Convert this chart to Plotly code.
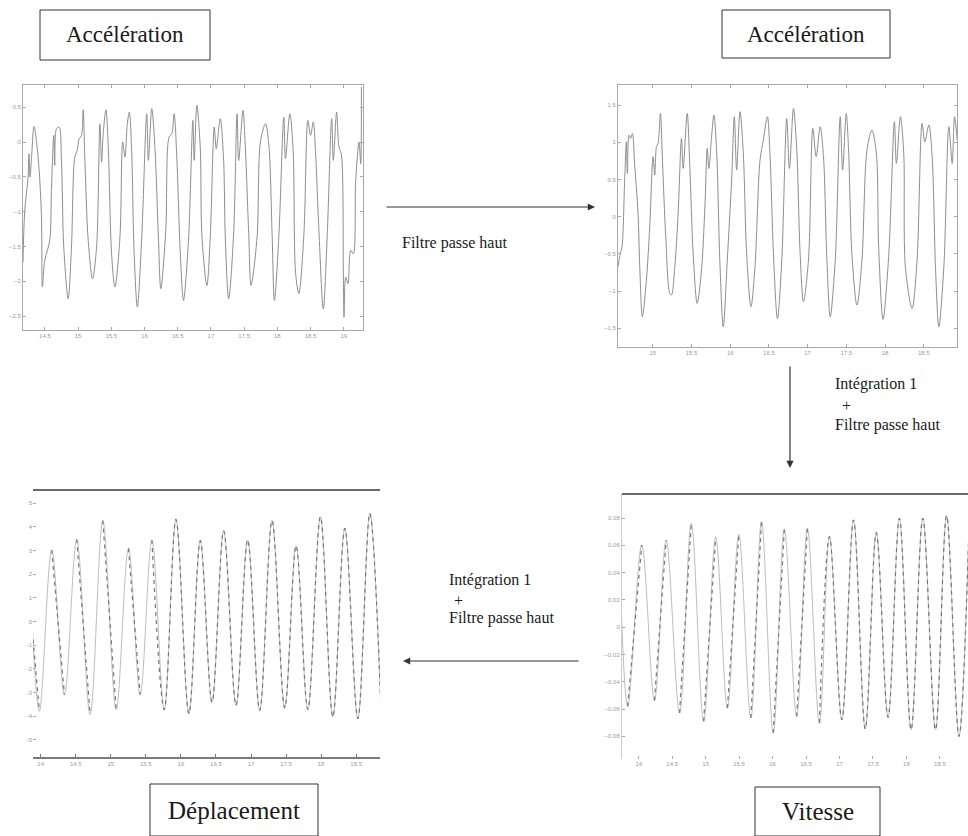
import plotly.graph_objects as go

# ---------------- data ----------------
# Raw acceleration (top left panel)
acc_raw_t = [14.170, 14.195, 14.246, 14.261, 14.276, 14.296, 14.336, 14.397, 14.447, 14.462,
             14.497, 14.573, 14.598, 14.633, 14.648, 14.674, 14.714, 14.749, 14.784, 14.850,
             14.900, 14.950, 14.986, 15.016, 15.051, 15.076, 15.102, 15.152, 15.217, 15.278,
             15.328, 15.353, 15.378, 15.419, 15.454, 15.504, 15.555, 15.630, 15.671, 15.706,
             15.741, 15.771, 15.806, 15.842, 15.892, 15.958, 16.033, 16.058, 16.109, 16.159,
             16.209, 16.245, 16.320, 16.370, 16.411, 16.446, 16.486, 16.537, 16.587, 16.662,
             16.728, 16.748, 16.788, 16.839, 16.864, 16.939, 16.990, 17.050, 17.080, 17.141,
             17.191, 17.216, 17.267, 17.342, 17.393, 17.418, 17.483, 17.518, 17.569, 17.604,
             17.695, 17.745, 17.821, 17.871, 17.921, 17.956, 18.022, 18.097, 18.123, 18.188,
             18.238, 18.274, 18.324, 18.400, 18.460, 18.500, 18.541, 18.576, 18.626, 18.692,
             18.752, 18.818, 18.843, 18.893, 18.928, 18.963, 18.994, 19.004, 19.029, 19.064,
             19.104, 19.145, 19.180, 19.230, 19.256, 19.266]
acc_raw_v = [-1.724, -1.006, -0.503, -0.168, -0.503, -0.263, 0.225, -0.216, -1.030, -2.083,
             -1.700, -1.413, -0.694, 0.096, -0.335, 0.192, 0.216, -0.263, -1.509, -2.251,
             -1.509, -0.216, -0.120, 0.048, 0.096, 0.465, -0.263, -1.413, -1.964, -1.509,
             0.263, -0.287, 0.120, 0.465, -0.072, -1.604, -2.083, -1.365, 0.000, -0.216,
             0.263, 0.431, -0.120, -1.557, -2.371, -1.365, 0.407, -0.263, 0.479, -0.120,
             -1.365, -2.107, -1.269, 0.072, 0.120, 0.407, -0.216, -1.557, -2.275, -1.413,
             0.311, -0.263, 0.527, -0.072, -1.341, -2.059, -1.365, 0.216, -0.096, 0.335,
             -0.263, -1.365, -2.251, -1.317, 0.407, -0.263, 0.455, -0.072, -1.317, -2.059,
             -1.365, 0.000, 0.263, -0.024, -1.317, -2.275, -1.365, 0.359, -0.239, 0.407,
             -0.120, -1.868, -2.179, -1.317, 0.311, 0.096, 0.287, -0.168, -1.269, -2.395,
             -1.317, 0.335, -0.263, 0.431, -0.072, -0.168, -1.892, -2.514, -1.940, -2.036,
             -1.557, -1.604, -0.551, 0.000, -0.311, 0.790]

# High-pass filtered acceleration (top right panel)
acc_hp_t = [14.550, 14.580, 14.602, 14.636, 14.658, 14.671, 14.692, 14.714, 14.736, 14.766,
            14.809, 14.831, 14.865, 14.917, 14.960, 15.003, 15.025, 15.047, 15.068, 15.098,
            15.124, 15.167, 15.219, 15.241, 15.284, 15.327, 15.370, 15.392, 15.444, 15.478,
            15.521, 15.573, 15.629, 15.673, 15.703, 15.724, 15.759, 15.789, 15.824, 15.867,
            15.910, 15.962, 16.018, 16.053, 16.083, 16.126, 16.169, 16.212, 16.268, 16.320,
            16.385, 16.428, 16.480, 16.515, 16.558, 16.610, 16.666, 16.730, 16.765, 16.817,
            16.860, 16.903, 16.946, 17.011, 17.067, 17.110, 17.162, 17.205, 17.249, 17.292,
            17.357, 17.421, 17.452, 17.499, 17.529, 17.572, 17.637, 17.702, 17.767, 17.831,
            17.888, 17.918, 17.974, 18.047, 18.121, 18.147, 18.199, 18.242, 18.263, 18.350,
            18.414, 18.479, 18.514, 18.566, 18.609, 18.652, 18.695, 18.760, 18.825, 18.868,
            18.898, 18.933]
acc_hp_v = [-0.672, -0.493, -0.403, 0.493, 1.008, 0.582, 1.097, 1.052, 1.120, 0.694,
            0.045, -0.672, -1.343, -0.851, -0.134, 0.806, 0.560, 0.940, 0.985, 1.388,
            0.761, -0.269, -1.030, -1.052, -0.672, 0.045, 1.052, 0.649, 1.388, 0.672,
            -0.493, -1.164, -0.717, 0.134, 0.918, 0.649, 1.075, 1.366, 0.896, -0.627,
            -1.478, -0.582, 0.493, 1.343, 0.627, 1.411, 0.851, -0.493, -1.209, -0.672,
            0.761, 1.030, 1.343, 0.806, -0.493, -1.366, -0.582, 1.321, 0.649, 1.455,
            0.896, -0.493, -1.142, -0.582, 1.187, 0.806, 1.209, 0.806, -0.582, -1.343,
            -0.582, 1.343, 0.627, 1.388, 0.896, -0.493, -1.187, -0.582, 0.896, 1.164,
            0.851, -0.403, -1.379, -0.537, 1.276, 0.717, 1.343, 0.851, -0.672, -1.232,
            -0.582, 1.254, 1.008, 1.232, 0.806, -0.672, -1.478, -0.672, 1.209, 0.717,
            1.343, 1.030]

# Velocity after first integration (bottom right panel), turning points
vit_t = [13.735, 13.835, 14.045, 14.235, 14.410, 14.610, 14.785, 14.970, 15.150, 15.325,
         15.495, 15.675, 15.835, 16.010, 16.175, 16.360, 16.520, 16.700, 16.850, 17.035,
         17.210, 17.385, 17.550, 17.725, 17.895, 18.070, 18.245, 18.435, 18.600, 18.785,
         18.930]
vit_v = [0.0176, -0.0580, 0.0602, -0.0537, 0.0639, -0.0629, 0.0761, -0.0690, 0.0659, -0.0593,
         0.0680, -0.0666, 0.0773, -0.0776, 0.0717, -0.0654, 0.0724, -0.0702, 0.0663, -0.0678,
         0.0785, -0.0746, 0.0693, -0.0661, 0.0798, -0.0751, 0.0798, -0.0751, 0.0817, -0.0800,
         0.0663]

# Displacement after second integration (bottom left panel), turning points
dep_t = [13.881, 13.981, 14.157, 14.338, 14.514, 14.705, 14.886, 15.076, 15.252, 15.419,
         15.586, 15.762, 15.929, 16.114, 16.276, 16.443, 16.610, 16.786, 16.952, 17.124,
         17.300, 17.481, 17.643, 17.810, 17.990, 18.167, 18.338, 18.524, 18.695, 18.848]
dep_v = [-0.42e-3, -3.79e-3, 3.02e-3, -3.09e-3, 3.47e-3, -3.93e-3, 4.26e-3, -3.72e-3, 3.09e-3, -3.09e-3,
         3.44e-3, -3.72e-3, 4.31e-3, -3.89e-3, 3.41e-3, -3.41e-3, 3.83e-3, -3.54e-3, 3.44e-3, -3.75e-3,
         4.26e-3, -3.65e-3, 3.20e-3, -3.72e-3, 4.42e-3, -4.03e-3, 3.93e-3, -4.10e-3, 4.56e-3, -3.30e-3]

# tick labels
acc_raw_xticks = [14.5, 15, 15.5, 16, 16.5, 17, 17.5, 18, 18.5, 19]
acc_raw_yticks = [0.5, 0, -0.5, -1, -1.5, -2, -2.5]
acc_hp_xticks = [15, 15.5, 16, 16.5, 17, 17.5, 18, 18.5]
acc_hp_yticks = [1.5, 1, 0.5, 0, -0.5, -1, -1.5]
low_xticks = [14, 14.5, 15, 15.5, 16, 16.5, 17, 17.5, 18, 18.5]
vit_yticks = [0.08, 0.06, 0.04, 0.02, 0, -0.02, -0.04, -0.06, -0.08]
dep_yticks = [5e-3, 4e-3, 3e-3, 2e-3, 1e-3, 0, -1e-3, -2e-3, -3e-3, -4e-3, -5e-3]
dep_yticktext = ["5", "4", "3", "2", "1", "0", "-1", "-2", "-3", "-4", "-5"]

# half-cycles drawn with the dashed pen (index = segment between turning points i and i+1)
vit_dashed = {1, 3, 5, 7, 9, 11, 13, 15, 17, 18, 19, 20, 21, 22, 23, 24, 25, 26, 27, 28, 29}
dep_dashed = {0, 2, 4, 6, 8, 10, 11, 12, 13, 14, 15, 16, 17, 18, 19, 20, 21, 22, 23, 24, 25, 26, 27, 28}

# ---------------- figure ----------------
W, H = 968, 836
SERIF = "Liberation Serif, Times New Roman, serif"
CURVE = "#8e8e8e"
TICKFONT = dict(family="Liberation Sans, Arial", size=6, color="#9a9a9a")


def dom_x(a, b):
    return [a / W, b / W]


def dom_y(top, bottom):
    return [1 - bottom / H, 1 - top / H]


def dashed_runs(t, v, dashed):
    xs, ys = [], []
    for i in range(len(t) - 1):
        if i in dashed:
            if xs and xs[-1] == t[i]:
                xs.append(t[i + 1]); ys.append(v[i + 1])
            else:
                if xs:
                    xs.append(None); ys.append(None)
                xs += [t[i], t[i + 1]]; ys += [v[i], v[i + 1]]
    return xs, ys


fig = go.Figure()

fig.add_trace(go.Scatter(x=acc_raw_t, y=acc_raw_v, mode="lines", xaxis="x", yaxis="y",
                         line=dict(color=CURVE, width=1, shape="spline", smoothing=0.9)))
fig.add_trace(go.Scatter(x=acc_hp_t, y=acc_hp_v, mode="lines", xaxis="x2", yaxis="y2",
                         line=dict(color=CURVE, width=1, shape="spline", smoothing=0.9)))

# displacement: faint continuous pen + dashed pen on top
fig.add_trace(go.Scatter(x=dep_t, y=dep_v, mode="lines", xaxis="x3", yaxis="y3",
                         line=dict(color="#bdbdbd", width=1, shape="spline", smoothing=1)))
dx, dy = dashed_runs(dep_t, dep_v, dep_dashed)
fig.add_trace(go.Scatter(x=dx, y=dy, mode="lines", xaxis="x3", yaxis="y3", connectgaps=False,
                         line=dict(color="#777777", width=1.2, dash="4px,4px", shape="spline", smoothing=1)))

# velocity
fig.add_trace(go.Scatter(x=vit_t, y=vit_v, mode="lines", xaxis="x4", yaxis="y4",
                         line=dict(color="#bdbdbd", width=1, shape="spline", smoothing=1)))
vx, vy = dashed_runs(vit_t, vit_v, vit_dashed)
fig.add_trace(go.Scatter(x=vx, y=vy, mode="lines", xaxis="x4", yaxis="y4", connectgaps=False,
                         line=dict(color="#777777", width=1.2, dash="4px,4px", shape="spline", smoothing=1)))

frame = dict(showline=True, linecolor="#a8a8a8", linewidth=1, mirror="ticks", ticks="inside",
             ticklen=3, tickcolor="#a8a8a8", showgrid=False, zeroline=False, tickfont=TICKFONT)

fig.update_layout(
    width=W, height=H, margin=dict(l=0, r=0, t=0, b=0),
    paper_bgcolor="white", plot_bgcolor="white", showlegend=False,
    xaxis=dict(domain=dom_x(23, 363), range=[14.17, 19.29], anchor="y",
               tickvals=acc_raw_xticks, **frame),
    yaxis=dict(domain=dom_y(85, 330), range=[-2.70, 0.82], anchor="x",
               tickvals=acc_raw_yticks, **frame),
    xaxis2=dict(domain=dom_x(618, 957), range=[14.55, 18.93], anchor="y2",
                tickvals=acc_hp_xticks, **frame),
    yaxis2=dict(domain=dom_y(85, 347), range=[-1.75, 1.77], anchor="x2",
                tickvals=acc_hp_yticks, **frame),
    xaxis3=dict(domain=dom_x(33, 380), range=[13.89, 18.84], anchor="y3",
                tickvals=low_xticks, showline=True, linecolor="#7a7a7a", linewidth=1.5,
                ticks="inside", ticklen=3, tickcolor="#777", showgrid=False, zeroline=False,
                tickfont=TICKFONT),
    yaxis3=dict(domain=dom_y(490, 757), range=[-5.72e-3, 5.55e-3], anchor="x3",
                tickvals=dep_yticks, ticktext=dep_yticktext, showline=False,
                ticks="inside", ticklen=3, tickcolor="#aaa", showgrid=False, zeroline=False,
                tickfont=TICKFONT),
    xaxis4=dict(domain=dom_x(622, 968), range=[13.75, 18.92], anchor="y4",
                tickvals=low_xticks, showline=False, ticks="inside", ticklen=3,
                tickcolor="#aaa", showgrid=False, zeroline=False, tickfont=TICKFONT),
    yaxis4=dict(domain=dom_y(494, 759), range=[-0.0966, 0.0976], anchor="x4",
                tickvals=vit_yticks, showline=True, linecolor="#cccccc", linewidth=1,
                ticks="inside", ticklen=3, tickcolor="#aaa", showgrid=False, zeroline=False,
                tickfont=TICKFONT),
)

shapes = [
    # heavy top rules of the lower plots
    dict(type="line", xref="paper", yref="paper", x0=33 / W, x1=380 / W, y0=1 - 490 / H, y1=1 - 490 / H,
         line=dict(color="#6a6a6a", width=2)),
    dict(type="line", xref="paper", yref="paper", x0=622 / W, x1=1, y0=1 - 494 / H, y1=1 - 494 / H,
         line=dict(color="#6a6a6a", width=2)),
]

# boxed captions: text, left, top, right, bottom, font size
boxes = [
    ("Accélération", 40, 10, 210, 60, 23),
    ("Accélération", 722, 10, 890, 58, 23),
    ("Déplacement", 150, 784, 318, 836, 25),
    ("Vitesse", 755, 787, 880, 836, 25),
]
annotations = []
for text, x0, y0, x1, y1, fs in boxes:
    shapes.append(dict(type="rect", xref="paper", yref="paper", x0=x0 / W, x1=x1 / W,
                       y0=1 - y1 / H, y1=1 - y0 / H, line=dict(color="#333", width=1)))
    annotations.append(dict(text=text, xref="paper", yref="paper", x=(x0 + x1) / 2 / W,
                            y=1 - (y0 + y1) / 2 / H, showarrow=False, xanchor="center",
                            yanchor="middle", font=dict(family=SERIF, size=fs, color="#1a1a1a")))

# process arrows
arrows = [
    (595, 207, -210, 0),   # right
    (790, 468, 0, -103),   # down
    (403, 661, 177, 0),    # left
]
for hx, hy, axo, ayo in arrows:
    annotations.append(dict(x=hx / W, y=1 - hy / H, xref="paper", yref="paper", ax=axo, ay=ayo,
                            showarrow=True, arrowhead=2, arrowsize=1.2, arrowwidth=1.2,
                            arrowcolor="#333", text=""))

notes = [
    ("Filtre passe haut", 400, 243),
    ("Intégration 1", 833, 384),
    ("+", 840, 405),
    ("Filtre passe haut", 833, 425),
    ("Intégration 1", 447, 580),
    ("+", 452, 600),
    ("Filtre passe haut", 447, 618),
]
for text, x, y in notes:
    annotations.append(dict(text=text, x=x / W, y=1 - y / H, xref="paper", yref="paper",
                            showarrow=False, xanchor="left", yanchor="middle",
                            font=dict(family=SERIF, size=16, color="#1a1a1a")))

fig.update_layout(shapes=shapes, annotations=annotations)
fig.write_html("out.html")
